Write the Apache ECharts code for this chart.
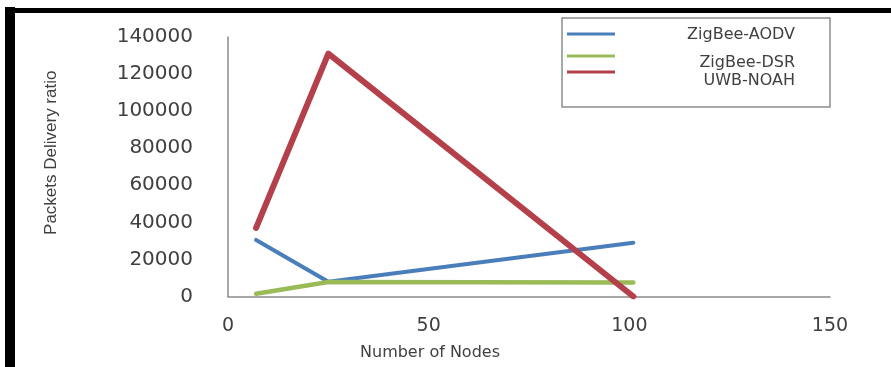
<!DOCTYPE html>
<html>
<head>
<meta charset="utf-8">
<script src="https://cdn.jsdelivr.net/npm/echarts@6/dist/echarts.min.js"></script>
<style>
html,body{margin:0;padding:0;background:#fff;}
#chart{width:891px;height:367px;}
</style>
</head>
<body>
<div id="chart"></div>
<script>
// Data
const nodes = [7, 25, 101];
const zigbeeAodv = [30500, 8000, 29000];
const zigbeeDsr = [1500, 7800, 7500];
const uwbNoah = [37000, 131000, 0];
const seriesNames = ['ZigBee-AODV', 'ZigBee-DSR', 'UWB-NOAH'];
const xTicks = [0, 50, 100, 150];
const yTicks = [0, 20000, 40000, 60000, 80000, 100000, 120000, 140000];

const colors = ['#4a7ebb', '#9bbb59', '#b3404a'];
const widths = [4, 4.5, 6];
const values = [zigbeeAodv, zigbeeDsr, uwbNoah];

const chart = echarts.init(document.getElementById('chart'));

const legendTops = [25, 41, 55];
const textShift = [1, 7, 9];
const LH = 20;

const option = {
  backgroundColor: '#ffffff',
  animation: false,
  grid: { left: 228, right: 61, top: 37, bottom: 70.5, containLabel: false },
  xAxis: {
    type: 'value',
    min: xTicks[0], max: xTicks[xTicks.length - 1], interval: 50,
    axisLine: { show: true, lineStyle: { color: '#8a8a8a', width: 1.5 } },
    axisTick: { show: false },
    splitLine: { show: false },
    axisLabel: { margin: 20, color: '#404040', fontFamily: 'DejaVu Sans', fontSize: 19, formatter: v => String(v) },
    name: 'Number of Nodes',
    nameLocation: 'middle',
    nameGap: 48,
    nameTextStyle: { color: '#404040', fontFamily: 'DejaVu Sans', fontSize: 16, padding: [0, 198, 0, 0] }
  },
  yAxis: {
    type: 'value',
    min: yTicks[0], max: yTicks[yTicks.length - 1], interval: 20000,
    axisLine: { show: true, lineStyle: { color: '#8a8a8a', width: 1.5 } },
    axisTick: { show: false },
    splitLine: { show: false },
    axisLabel: { margin: 35, color: '#404040', fontFamily: 'DejaVu Sans', fontSize: 20, formatter: v => String(v) },
    name: 'Packets Delivery ratio',
    nameLocation: 'middle',
    nameGap: 168,
    nameTextStyle: { color: '#404040', fontFamily: 'Liberation Sans', fontSize: 17, padding: [0, 0, 0, 28] }
  },
  legend: seriesNames.map((n, i) => ({
    data: [n],
    orient: 'vertical',
    left: 567,
    top: legendTops[i],
    itemWidth: 48,
    itemHeight: 3,
    padding: 0,
    icon: 'rect',
    itemStyle: { color: colors[i] },
    formatter: '{t|{name}}',
    textStyle: {
      color: '#404040', fontFamily: 'DejaVu Sans', fontSize: 16,
      rich: { t: { width: 175, align: 'right', lineHeight: LH, fontFamily: 'DejaVu Sans', fontSize: 16, color: '#404040', padding: [textShift[i] * 2, 0, 0, 0] } }
    }
  })),
  graphic: [
    { type: 'rect', shape: { x: 562, y: 18, width: 268, height: 89 }, style: { fill: 'none', stroke: '#8c8c8c', lineWidth: 1.5 }, z: 0 },
    { type: 'rect', shape: { x: 5, y: 7, width: 10, height: 360 }, style: { fill: '#000' } },
    { type: 'rect', shape: { x: 5, y: 8, width: 886, height: 5 }, style: { fill: '#000' } }
  ],
  series: seriesNames.map((n, i) => ({
    name: n,
    type: 'line',
    data: nodes.map((x, j) => [x, values[i][j]]),
    showSymbol: false,
    symbol: 'none',
    lineStyle: { color: colors[i], width: widths[i], cap: 'round', join: 'round' },
    itemStyle: { color: colors[i] }
  }))
};
chart.setOption(option);
</script>
</body>
</html>
